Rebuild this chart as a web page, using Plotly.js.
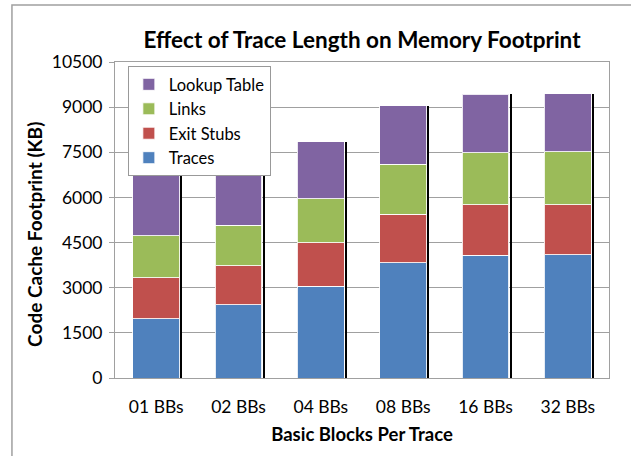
<!DOCTYPE html>
<html>
<head>
<meta charset="utf-8">
<script src="https://cdn.plot.ly/plotly-3.0.1.min.js"></script>
<style>
html,body{margin:0;padding:0;background:#fff;}
#chart{width:631px;height:456px;}
</style>
</head>
<body>
<div id="chart"></div>
<script>
var categories = ["01 BBs", "02 BBs", "04 BBs", "08 BBs", "16 BBs", "32 BBs"];
var traces     = [1970, 2426, 3057, 3832, 4087, 4097];
var exitStubs  = [1363, 1296, 1429, 1608, 1662, 1662];
var links      = [1396, 1352, 1462, 1661, 1738, 1751];
var lookup     = [2126, 1871, 1904, 1938, 1940, 1938];
var yTicks     = [0, 1500, 3000, 4500, 6000, 7500, 9000, 10500];

var totals = categories.map(function(_, i){ return traces[i] + exitStubs[i] + links[i] + lookup[i]; });

var FONT = "Lato, 'Open Sans', sans-serif";
var outline = {color: "rgba(255,255,255,0.85)", width: 1};

function series(name, vals, color) {
  return {type: "bar", name: name, x: categories, y: vals,
          marker: {color: color, line: outline}, xaxis: "x", yaxis: "y", hoverinfo: "y+name"};
}

var data = [
  {type: "bar", x: categories, y: totals, xaxis: "x2", yaxis: "y",
   width: 0.025, offset: 0.292, marker: {color: "#000000", line: {width: 0}},
   showlegend: false, hoverinfo: "skip"},
  series("Traces", traces, "#4F81BD"),
  series("Exit Stubs", exitStubs, "#C0504D"),
  series("Links", links, "#9BBB59"),
  series("Lookup Table", lookup, "#8064A2")
];

var layout = {
  width: 631, height: 456,
  paper_bgcolor: "#ffffff", plot_bgcolor: "#ffffff",
  margin: {l: 115, r: 22, t: 62, b: 78},
  barmode: "stack", bargap: 0.43,
  font: {family: FONT, size: 17, color: "#000"},
  title: {text: "<b>Effect of Trace Length on Memory Footprint</b>",
          font: {family: FONT, size: 22.5, color: "#000"},
          x: 0.5, xref: "paper", xanchor: "center", y: 1, yref: "paper", yanchor: "bottom", pad: {b: 14}},
  xaxis: {type: "category", showgrid: false, showline: true, linecolor: "#a0a0a0", linewidth: 1, mirror: true,
          ticks: "", tickfont: {family: FONT, size: 17.5}, ticklabelstandoff: 13,
          title: {text: "<b>Basic Blocks Per Trace</b>", font: {family: FONT, size: 18.5}, standoff: 12}},
  xaxis2: {type: "category", overlaying: "x", matches: "x", visible: false},
  yaxis: {range: [0, 10500], tickvals: yTicks, ticktext: yTicks.map(String),
          showgrid: true, gridcolor: "#a0a0a0", gridwidth: 1, zeroline: false,
          showline: true, linecolor: "#a0a0a0", linewidth: 1, mirror: true,
          ticks: "outside", ticklen: 5, tickcolor: "#a0a0a0", tickfont: {family: FONT, size: 17.5},
          ticklabelstandoff: 3},
  annotations: [{text: "<b>Code Cache Footprint (KB)</b>", xref: "paper", yref: "paper",
                 x: -0.162, y: 0.456, xanchor: "center", yanchor: "middle", textangle: -90,
                 showarrow: false, font: {family: FONT, size: 19, color: "#000"}}],
  legend: {x: 0.026, y: 0.987, xanchor: "left", yanchor: "top", traceorder: "reversed",
           bordercolor: "#999", borderwidth: 1, bgcolor: "#fff",
           font: {family: FONT, size: 16.5}, itemwidth: 30, tracegroupgap: 0},
  shapes: [{type: "rect", xref: "paper", yref: "paper", x0: -0.2086, x1: 1.2, y0: -0.5, y1: 1.1803,
            line: {color: "#a0a0a0", width: 1.5}, fillcolor: "rgba(0,0,0,0)", layer: "below"}]
};

Plotly.newPlot("chart", data, layout, {displayModeBar: false, staticPlot: true});
</script>
</body>
</html>
